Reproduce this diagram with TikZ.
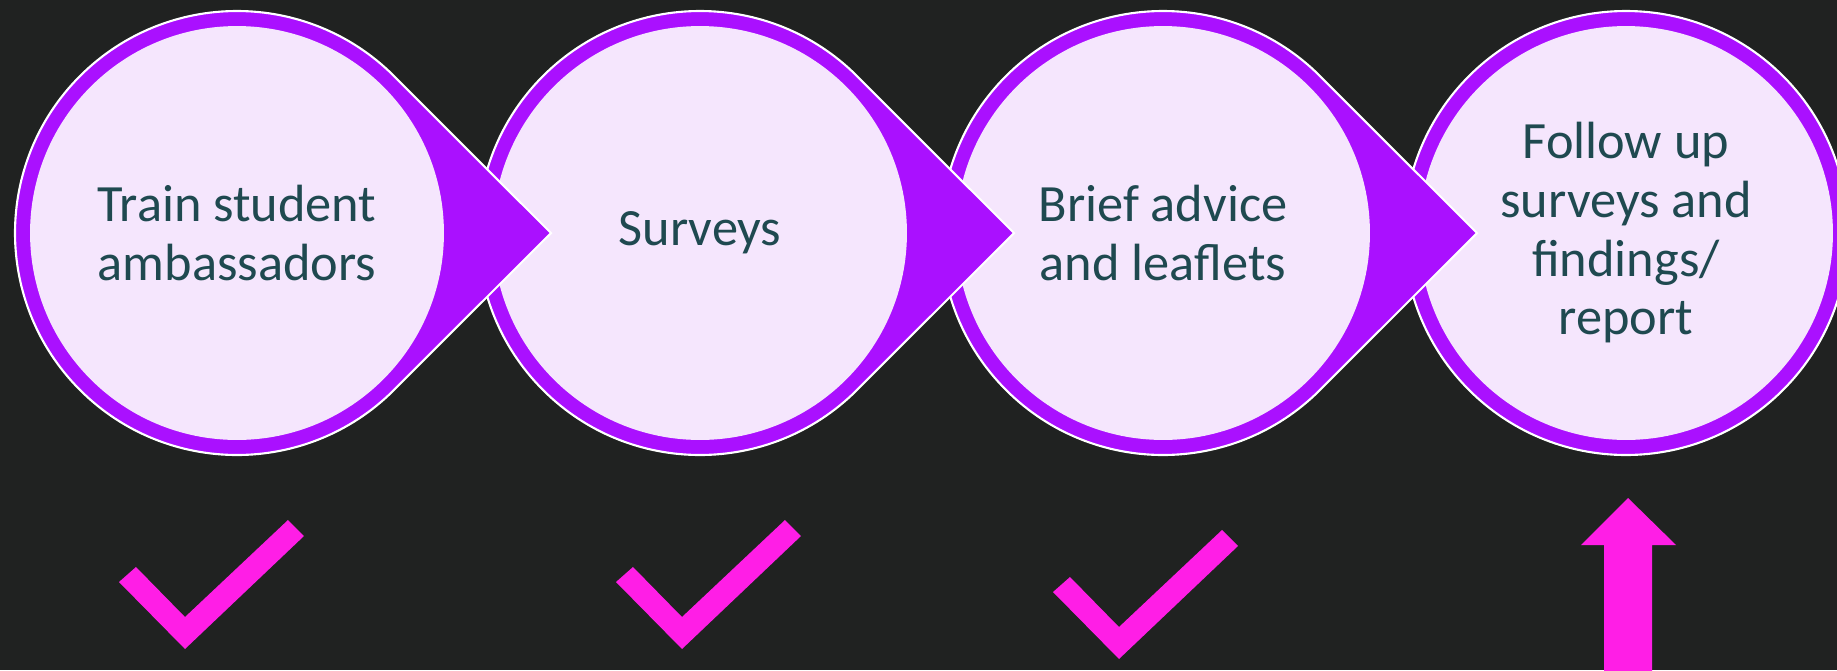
\documentclass[tikz,border=0pt]{standalone}
\usepackage{fontspec}
\setmainfont{Carlito}
\usetikzlibrary{positioning}
\definecolor{sfondo}{RGB}{32,34,33}
\definecolor{viola}{RGB}{170,16,255}
\definecolor{lilla}{RGB}{245,230,253}
\definecolor{testo}{RGB}{31,73,80}
\definecolor{fucsia}{RGB}{255,30,230}

\tikzset{
  goccia/.style={fill=viola, draw=white, line width=1.2pt},
  fase/.style={circle, fill=lilla, inner sep=0pt, minimum size=8.28cm,
    text=testo, align=center, font=\fontsize{29.8}{33.4}\selectfont},
  spunta/.style={fill=fucsia}
}

\begin{document}
\begin{tikzpicture}[x=0.02cm, y=-0.02cm]
        %sfondo
        \fill[sfondo] (0,0) rectangle (1837,670);
        \useasboundingbox (0,0) rectangle (1837,670);
        %ultima fase, senza punta
        \fill[goccia] (1626,233) circle[radius=222];
        \node[fase] (s4) at (1626,233) {Follow up\\surveys and\\findings/\\report};
        %fasi con punta, da destra a sinistra
        \foreach \cx/\nome/\txt in {1163/s3/{Brief advice\\and leaflets},
                                   700/s2/{Surveys},
                                   237/s1/{Train student\\ambassadors}} {
        \fill[goccia] (\cx,233) ++(45:222)
          arc[start angle=45, end angle=315, radius=222] -- (\cx+314,233) -- cycle;
        \node[fase] (\nome) at (\cx,233) {\txt};}
        %spunte
        \foreach \dx/\dy in {0/0, 497/0, 934/10} {
        \begin{scope}[shift={(\dx,\dy)}]
          \fill[spunta] (119,582) -- (136,567) -- (185,617) -- (288,520)
            -- (304,536) -- (185,649) -- cycle;
        \end{scope}}
        %freccia in su
        \fill[spunta] (1604,672) -- (1604,545) -- (1581,545) -- (1628,498)
          -- (1676,545) -- (1652,545) -- (1652,672) -- cycle;
    \end{tikzpicture}
\end{document}
